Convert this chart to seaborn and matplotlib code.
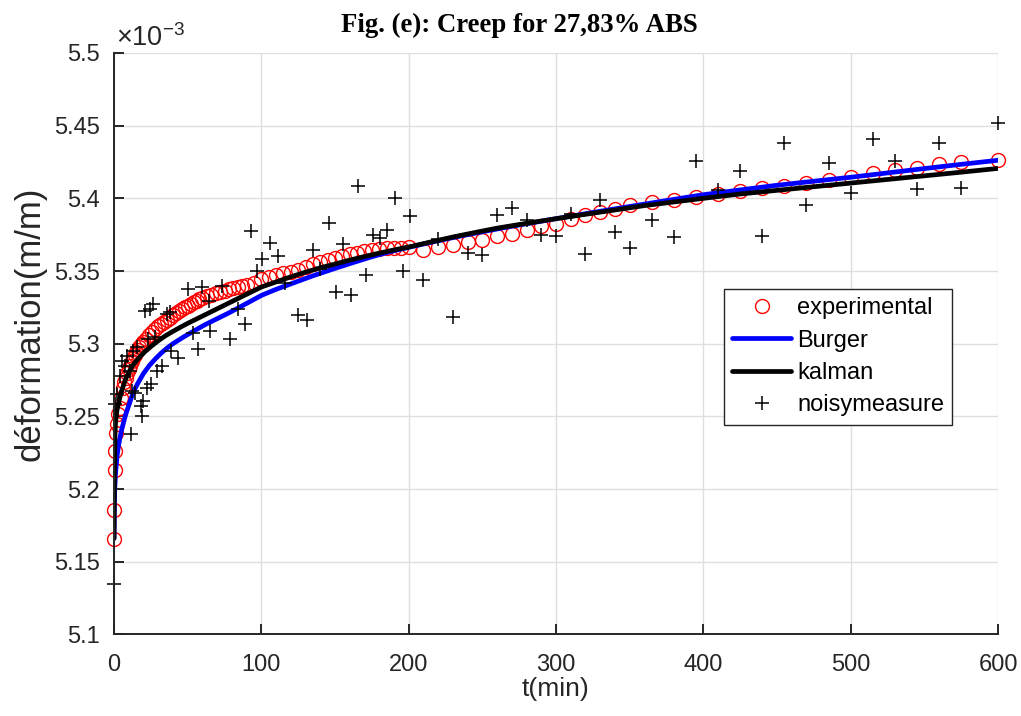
import matplotlib
matplotlib.use("Agg")
import matplotlib.pyplot as plt
import seaborn as sns
import pandas as pd
from matplotlib.ticker import FixedLocator, FuncFormatter

# ---------------- data (strain in units of 1e-3) ----------------
exp_t = [0, 0.25, 0.5, 1, 1.5, 2, 3, 4, 5, 6, 7, 8, 9, 10, 11, 12, 13, 14, 15, 16,
         17, 18, 19, 20, 22, 24, 26, 28, 30, 32, 34, 36, 38, 40, 42, 44, 46, 48, 50,
         52, 54, 56, 58, 60, 63, 66, 69, 72, 75, 78, 81, 84, 87, 90, 95, 100, 105,
         110, 115, 120, 125, 130, 135, 140, 145, 150, 155, 160, 165, 170, 175, 180,
         185, 190, 195, 200, 210, 220, 230, 240, 250, 260, 270, 280, 290, 300, 310,
         320, 330, 340, 350, 365, 380, 395, 410, 425, 440, 455, 470, 485, 500, 515,
         530, 545, 560, 575, 600]
exp_y = [5.1657, 5.1858, 5.2129, 5.2260, 5.2387, 5.2445, 5.2514, 5.2559, 5.2628,
         5.2698, 5.2735, 5.2767, 5.2800, 5.2825, 5.2845, 5.2880, 5.2905, 5.2925,
         5.2945, 5.2960, 5.2975, 5.2990, 5.3000, 5.3012, 5.3035, 5.3062, 5.3080,
         5.3102, 5.3120, 5.3138, 5.3150, 5.3165, 5.3180, 5.3195, 5.3210, 5.3225,
         5.3238, 5.3250, 5.3262, 5.3273, 5.3284, 5.3295, 5.3305, 5.3315, 5.3327,
         5.3338, 5.3348, 5.3358, 5.3366, 5.3374, 5.3381, 5.3388, 5.3395, 5.3405,
         5.3420, 5.3445, 5.3462, 5.3475, 5.3485, 5.3495, 5.3510, 5.3527, 5.3545,
         5.3562, 5.3578, 5.3590, 5.3605, 5.3615, 5.3625, 5.3635, 5.3643, 5.3650,
         5.3655, 5.3658, 5.3660, 5.3662, 5.3645, 5.3665, 5.3676, 5.3699, 5.3715,
         5.3738, 5.3757, 5.3780, 5.3807, 5.3826, 5.3860, 5.3883, 5.3906, 5.3930,
         5.3952, 5.3975, 5.3987, 5.4006, 5.4028, 5.4049, 5.4068, 5.4084, 5.4106,
         5.4125, 5.4148, 5.4171, 5.4194, 5.4210, 5.4233, 5.4251, 5.4263]

burger_t = [0, 0.2, 0.5, 1, 1.5, 2, 3, 4, 5, 6, 8, 10, 13, 16, 20, 24, 28, 32, 36,
            40, 47, 55, 62, 70, 78, 85, 92, 100, 110, 125, 135, 150, 162, 175, 187,
            200, 215, 230, 250, 270, 300, 325, 350, 375, 400, 425, 450, 475, 500,
            525, 550, 575, 600]
burger_y = [5.1660, 5.1850, 5.2000, 5.2100, 5.2160, 5.2220, 5.2295, 5.2350, 5.2400,
            5.2440, 5.2515, 5.2575, 5.2665, 5.2725, 5.2795, 5.2850, 5.2895, 5.2935,
            5.2970, 5.3000, 5.3045, 5.3092, 5.3132, 5.3172, 5.3212, 5.3250, 5.3288,
            5.3332, 5.3374, 5.3430, 5.3467, 5.3518, 5.3557, 5.3598, 5.3632, 5.3663,
            5.3697, 5.3730, 5.3770, 5.3808, 5.3860, 5.3903, 5.3944, 5.3985, 5.4025,
            5.4058, 5.4090, 5.4118, 5.4145, 5.4175, 5.4205, 5.4234, 5.4262]

kalman_t = [0, 0.2, 0.4, 0.7, 1, 1.5, 2, 3, 4, 5, 6, 8, 10, 12, 15, 18, 21, 25, 30,
            35, 40, 45, 50, 55, 60, 70, 80, 90, 100, 110, 120, 130, 140, 150, 160,
            170, 180, 190, 200, 215, 230, 245, 260, 280, 300, 320, 340, 360, 380,
            400, 425, 450, 475, 500, 525, 550, 575, 600]
kalman_y = [5.1660, 5.1950, 5.2180, 5.2380, 5.2450, 5.2500, 5.2540, 5.2590, 5.2630,
            5.2670, 5.2700, 5.2760, 5.2800, 5.2840, 5.2880, 5.2915, 5.2945, 5.2980,
            5.3020, 5.3055, 5.3085, 5.3113, 5.3140, 5.3165, 5.3190, 5.3240, 5.3290,
            5.3340, 5.3390, 5.3425, 5.3460, 5.3492, 5.3522, 5.3548, 5.3575, 5.3600,
            5.3623, 5.3645, 5.3665, 5.3700, 5.3734, 5.3765, 5.3795, 5.3828, 5.3860,
            5.3890, 5.3920, 5.3950, 5.3975, 5.4000, 5.4030, 5.4055, 5.4080, 5.4105,
            5.4130, 5.4155, 5.4180, 5.4206]

noise_t = [0, 0.7, 1.8, 4.1, 5.2, 7.5, 8.6, 10.9, 11.5, 12, 13.1, 14, 15.4, 18.2,
           18.8, 19.9, 21, 22.1, 23.3, 24.4, 25, 26.7, 27.5, 29, 32.4, 35.7, 38,
           39, 43.6, 50.5, 53.8, 57.2, 59.5, 64.5, 65.2, 73, 78.5, 84, 89.1, 92.8,
           96.8, 100.2, 105.9, 111.6, 116, 125.1, 130.8, 135.3, 139.8, 146.1,
           150.7, 155.6, 160.6, 165.8, 171, 175.6, 180.5, 185.5, 190.7, 195.9, 201,
           210, 220, 230, 240, 250, 260, 270, 280, 290, 300, 310, 320, 330, 340,
           350, 365, 380, 395, 410, 425, 440, 455, 470, 485, 500, 515, 530, 545,
           560, 575, 600]
noise_y = [5.1350, 5.2583, 5.2652, 5.2778, 5.2882, 5.2847, 5.2916, 5.2813, 5.2380,
           5.2675, 5.2951, 5.2660, 5.2974, 5.2571, 5.2502, 5.2606, 5.3227, 5.2698,
           5.3032, 5.3239, 5.2721, 5.3273, 5.3043, 5.2813, 5.2847, 5.3204, 5.3215,
           5.2951, 5.2905, 5.3377, 5.3077, 5.2963, 5.3388, 5.3296, 5.3089, 5.3400,
           5.3032, 5.3242, 5.3135, 5.3775, 5.3503, 5.3584, 5.3692, 5.3600, 5.3420,
           5.3200, 5.3163, 5.3646, 5.3515, 5.3830, 5.3354, 5.3688, 5.3338, 5.4084,
           5.3476, 5.3745, 5.3729, 5.3780, 5.3999, 5.3499, 5.3878, 5.3439, 5.3722,
           5.3186, 5.3623, 5.3612, 5.3883, 5.3936, 5.3849, 5.3745, 5.3738, 5.3895,
           5.3619, 5.3987, 5.3768, 5.3660, 5.3854, 5.3733, 5.4256, 5.4056, 5.4187,
           5.3738, 5.4378, 5.3957, 5.4240, 5.4037, 5.4406, 5.4256, 5.4061, 5.4383,
           5.4068, 5.4521]

x_ticks = [0, 100, 200, 300, 400, 500, 600]
y_ticks = [5.1, 5.15, 5.2, 5.25, 5.3, 5.35, 5.4, 5.45, 5.5]

title_text = "Fig. (e): Creep for 27,83% ABS"
x_label = "t(min)"
y_label = "déformation(m/m)"
exponent_text = r"$\times10^{-3}$"
legend_labels = ["experimental", "Burger", "kalman", "noisymeasure"]

# ---------------- style ----------------
sns.set_theme(style="ticks")
plt.rcParams["font.family"] = ["Liberation Sans", "DejaVu Sans"]
plt.rcParams["mathtext.fontset"] = "custom"
plt.rcParams["mathtext.rm"] = "Liberation Sans"
plt.rcParams["mathtext.it"] = "Liberation Sans:italic"
plt.rcParams["mathtext.bf"] = "Liberation Sans:bold"

AX = "#262626"
fig = plt.figure(figsize=(10.21, 7.16), dpi=100)
ax = fig.add_axes([114 / 1021, 1 - 634.4 / 716, 884 / 1021, 581.4 / 716])

exp_df = pd.DataFrame({"t": exp_t, "y": exp_y})
bur_df = pd.DataFrame({"t": burger_t, "y": burger_y})
kal_df = pd.DataFrame({"t": kalman_t, "y": kalman_y})
noi_df = pd.DataFrame({"t": noise_t, "y": noise_y})

sns.lineplot(data=exp_df, x="t", y="y", ax=ax, estimator=None, sort=False,
             linestyle="none", marker="o", markersize=10,
             markerfacecolor="none", markeredgecolor="red", markeredgewidth=1.0,
             color="red", label=legend_labels[0], clip_on=False, zorder=3)
sns.lineplot(data=bur_df, x="t", y="y", ax=ax, estimator=None, sort=False,
             color="#0000ff", linewidth=3.4, label=legend_labels[1], zorder=4)
sns.lineplot(data=kal_df, x="t", y="y", ax=ax, estimator=None, sort=False,
             color="black", linewidth=3.4, label=legend_labels[2], zorder=5)
sns.lineplot(data=noi_df, x="t", y="y", ax=ax, estimator=None, sort=False,
             linestyle="none", marker="+", markersize=10,
             markeredgecolor="black", markeredgewidth=1.1, color="black",
             label=legend_labels[3], clip_on=False, zorder=6)

ax.set_xlim(0, 600)
ax.set_ylim(5.1, 5.5)
ax.xaxis.set_major_locator(FixedLocator(x_ticks))
ax.yaxis.set_major_locator(FixedLocator(y_ticks))
ax.yaxis.set_major_formatter(FuncFormatter(lambda v, p: "{:g}".format(round(v, 2))))
ax.xaxis.set_major_formatter(FuncFormatter(lambda v, p: "{:g}".format(v)))

ax.grid(True, color="#dfdfdf", linewidth=1.0, zorder=0)
for s in ["top", "right"]:
    ax.spines[s].set_visible(False)
for s in ["left", "bottom"]:
    ax.spines[s].set_color(AX)
    ax.spines[s].set_linewidth(1.4)
    ax.spines[s].set_zorder(7)
ax.tick_params(axis="both", which="major", bottom=True, left=True, top=False,
               right=False, direction="in", length=7, width=1.4, color=AX,
               labelcolor=AX, labelsize=17)
ax.tick_params(axis="x", pad=14)
ax.tick_params(axis="y", pad=10)

ax.set_xlabel(x_label, fontsize=19, color=AX)
ax.set_ylabel(y_label, fontsize=25, color=AX)
ax.xaxis.set_label_coords(0.5, (634.4 - 689) / 581.4)
ax.xaxis.label.set_va("center")
ax.yaxis.set_label_coords((30 - 114) / 884, 0.535)
ax.yaxis.label.set_va("center")

ax.text(2 / 884, 1 + 7 / 581.4, exponent_text, transform=ax.transAxes,
        fontsize=19.5, color=AX, ha="left", va="baseline")

fig.text(519 / 1021, 1 - 32 / 716, title_text, fontsize=19.3, fontweight="bold",
         family=["Liberation Serif", "DejaVu Serif"], ha="center", va="baseline",
         color="black")

leg = ax.legend(loc="upper left", bbox_to_anchor=((724 - 114) / 884, 1 - (289 - 53) / 581.4),
                borderaxespad=0, fontsize=17, frameon=True, fancybox=False,
                handlelength=2.5, handletextpad=0.25, labelspacing=0.44,
                borderpad=0.35)
leg.get_frame().set_edgecolor(AX)
leg.get_frame().set_linewidth(1.0)
leg.get_frame().set_facecolor("white")
leg.get_frame().set_alpha(1)
leg.set_zorder(10)
for t in leg.get_texts():
    t.set_color("black")

fig.savefig("out.png", dpi=100)
